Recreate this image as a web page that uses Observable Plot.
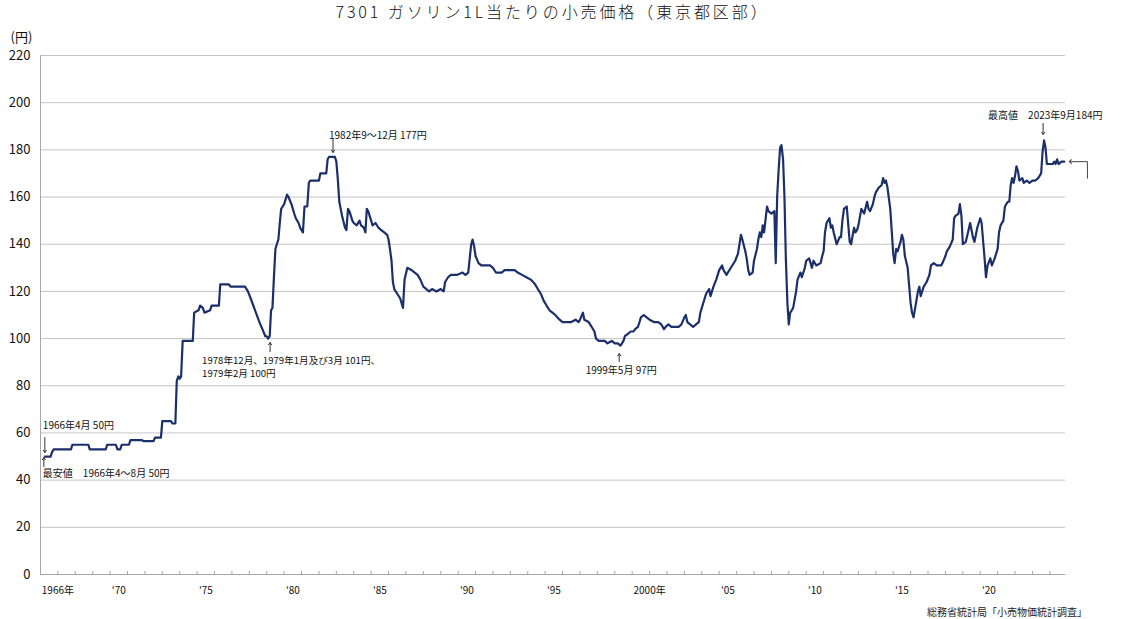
<!DOCTYPE html>
<html><head><meta charset="utf-8">
<script src="https://cdn.jsdelivr.net/npm/d3@7"></script>
<script src="https://cdn.jsdelivr.net/npm/@observablehq/plot@0.6"></script>
<style>
body{margin:0;background:#fff;font-family:"Noto Sans CJK JP",sans-serif;}
#title{height:26px;width:1025px;margin-left:40px;text-align:center;font-size:16px;line-height:23px;letter-spacing:2.9px;color:#111;font-weight:300;white-space:nowrap;}
#caption{height:15px;line-height:15px;font-size:10px;text-align:right;padding-right:50px;color:#222;}
svg{display:block;}
</style></head><body>
<div id="title">7301 ガソリン1L当たりの小売価格（東京都区部）</div>
<div id="chart"></div>
<div id="caption">総務省統計局「小売物価統計調査」</div>
<script>
const years = [1966.25,1966.58,1966.67,1966.75,1967.75,1967.83,1968.75,1968.83,1969.75,1969.83,1970.33,1970.42,1970.58,1970.67,1971.08,1971.17,1971.83,1971.92,1972.5,1972.58,1972.92,1973.0,1973.5,1973.58,1973.75,1973.83,1973.92,1974.0,1974.08,1974.17,1974.75,1974.83,1975.08,1975.17,1975.33,1975.42,1975.75,1975.83,1976.25,1976.33,1976.83,1976.92,1977.75,1977.92,1978.08,1978.33,1978.58,1978.75,1978.92,1979.0,1979.08,1979.17,1979.25,1979.33,1979.42,1979.5,1979.58,1979.67,1979.75,1979.83,1979.92,1980.0,1980.17,1980.25,1980.42,1980.58,1980.67,1980.83,1980.92,1981.0,1981.08,1981.17,1981.33,1981.42,1981.5,1982.0,1982.08,1982.42,1982.5,1982.58,1982.92,1983.0,1983.08,1983.17,1983.25,1983.33,1983.5,1983.58,1983.67,1983.75,1983.92,1984.0,1984.17,1984.33,1984.42,1984.58,1984.67,1984.75,1984.83,1985.0,1985.08,1985.25,1985.42,1985.58,1985.75,1985.92,1986.0,1986.08,1986.17,1986.25,1986.33,1986.5,1986.67,1986.83,1986.92,1987.08,1987.33,1987.5,1987.67,1987.83,1988.0,1988.17,1988.33,1988.5,1988.75,1989.0,1989.17,1989.25,1989.42,1989.58,1989.92,1990.25,1990.42,1990.58,1990.75,1990.83,1990.92,1991.0,1991.17,1991.33,1991.83,1992.0,1992.17,1992.5,1992.67,1993.25,1993.42,1993.67,1993.92,1994.17,1994.42,1994.58,1994.75,1994.92,1995.08,1995.25,1995.42,1995.58,1995.83,1996.0,1996.5,1996.75,1996.92,1997.0,1997.17,1997.25,1997.5,1997.67,1997.83,1997.92,1998.08,1998.42,1998.58,1998.83,1999.0,1999.17,1999.33,1999.5,1999.58,1999.75,1999.92,2000.08,2000.17,2000.33,2000.42,2000.5,2000.67,2000.83,2001.0,2001.25,2001.5,2001.67,2001.83,2001.92,2002.08,2002.25,2002.67,2002.83,2003.0,2003.08,2003.17,2003.33,2003.5,2003.67,2003.83,2003.92,2004.08,2004.25,2004.42,2004.5,2004.67,2004.83,2005.0,2005.17,2005.25,2005.42,2005.5,2005.75,2005.92,2006.08,2006.25,2006.33,2006.5,2006.58,2006.67,2006.75,2006.92,2007.0,2007.17,2007.25,2007.33,2007.42,2007.5,2007.58,2007.75,2007.83,2008.0,2008.17,2008.25,2008.33,2008.42,2008.5,2008.58,2008.67,2008.75,2008.83,2008.92,2009.0,2009.08,2009.17,2009.25,2009.42,2009.5,2009.67,2009.75,2009.92,2010.0,2010.17,2010.33,2010.42,2010.58,2010.83,2010.92,2011.0,2011.08,2011.17,2011.33,2011.42,2011.5,2011.58,2011.75,2011.92,2012.0,2012.08,2012.17,2012.33,2012.42,2012.5,2012.58,2012.75,2012.83,2012.92,2013.0,2013.17,2013.25,2013.33,2013.5,2013.58,2013.67,2013.83,2013.92,2014.0,2014.17,2014.33,2014.42,2014.5,2014.58,2014.67,2014.83,2014.92,2015.0,2015.08,2015.17,2015.25,2015.42,2015.5,2015.58,2015.67,2015.83,2015.92,2016.0,2016.08,2016.17,2016.33,2016.42,2016.5,2016.58,2016.75,2016.92,2017.08,2017.17,2017.33,2017.5,2017.75,2017.83,2018.0,2018.08,2018.25,2018.42,2018.5,2018.58,2018.75,2018.83,2018.92,2019.0,2019.17,2019.33,2019.42,2019.58,2019.67,2019.83,2020.0,2020.08,2020.17,2020.25,2020.33,2020.42,2020.58,2020.67,2020.83,2021.0,2021.08,2021.17,2021.33,2021.42,2021.58,2021.67,2021.75,2021.83,2021.92,2022.0,2022.08,2022.17,2022.25,2022.42,2022.5,2022.67,2022.83,2023.0,2023.17,2023.33,2023.5,2023.58,2023.67,2023.75,2023.83,2024.0,2024.17,2024.25,2024.33,2024.42,2024.5,2024.67,2024.83];
const prices = [50,50,52,53,53,55,55,53,53,55,55,53,53,55,55,57,57,56.5,56.5,58,58,65,65,64,64,82,84,83,84,99,99,111,112,114,113,111,112,114,114,123,123,122,122,120,117,112,107,104,101,101,100,101,112,113,127,138,140,142,149,155,156,157,161,160,157,153,151,149,147,146,145,156,156,166,167,167,170,170,176,177,177,175,168,158,155,152,147,146,155,154,150,149,148,150,148,147,145,155,154,150,148,149,147,146,145,144,142,138,133,124,121,119,117,113,125,130,129,128,127,125,122,121,120,121,120,121,120,124,126,127,127,128,127,128,140,142,139,135,132,131,131,130,128,128,129,129,128,127,126,125,123,121,119,116,114,112,111,110,108,107,107,108,107,108,111,108,107,105,103,100,99,99,98,99,98,98,97,99,101,102,103,103,104,105,107,109,110,109,108,107,107,106,104,105,106,105,105,106,109,110,107,106,105,106,107,111,115,119,121,118,122,125,129,131,129,127,128,131,133,136,144,142,137,134,129,127,128,133,138,142,145,143,148,145,156,154,153,154,132,160,172,181,182,176,160,134,115,106,111,112,113,120,125,128,126,130,133,134,130,133,131,132,135,137,145,149,151,147,148,145,140,143,143,150,155,156,148,141,140,147,145,146,148,155,154,153,158,155,154,157,160,162,164,165,168,166,167,164,155,145,136,132,138,137,141,144,142,135,130,122,115,111,109,116,120,122,118,122,124,127,131,132,131,131,132,135,137,139,142,151,152,153,157,152,140,141,146,149,143,141,147,151,149,141,134,126,131,134,131,134,138,145,148,150,156,158,158,165,168,166,169,173,171,167,168,166,167,166,167,167,168,170,179,184,181,174,174,174,175,174,176,174,175,175];
const yTicks = [0,20,40,60,80,100,120,140,160,180,200,220];
const xLabels = [
  {year:1966,label:"1966年"},{year:1970,label:"'70"},{year:1975,label:"'75"},{year:1980,label:"'80"},
  {year:1985,label:"'85"},{year:1990,label:"'90"},{year:1995,label:"'95"},{year:2000,label:"2000年"},
  {year:2005,label:"'05"},{year:2010,label:"'10"},{year:2015,label:"'15"},{year:2020,label:"'20"}
];
const yearTicks = d3.range(1967, 2025);
const annotations = [
  {key:"min1", t:1966.25, v:50, label:"1966年4月 50円"},
  {key:"min2", t:1966.25, v:50, label:"最安値　1966年4〜8月 50円"},
  {key:"low", t:1979.08, v:100, label:"1978年12月、1979年1月及び3月 101円、\n1979年2月 100円"},
  {key:"p82", t:1982.75, v:177, label:"1982年9〜12月 177円"},
  {key:"low99", t:1999.37, v:97, label:"1999年5月 97円"},
  {key:"max", t:2023.67, v:184, label:"最高値　2023年9月184円"}
];
const data = years.map((t,i)=>({t, v: prices[i]}));

const W = 1137, H = 578, mT = 29, mB = 30;
const pxY = p => p * 220 / (H - mT - mB);
const ann = k => annotations.filter(a => a.key === k);
const font = "'Noto Sans CJK JP', sans-serif";
const txt = (k, o) => Plot.text(ann(k), {x:"t", y:"v", text:"label", fontSize:10, fill:"#111", ...o});
// arrow from offset a px to offset b px below the annotated point (negative = above); head at b
const arr = (k, a, b, dx) => Plot.arrow(ann(k), {
  x1:"t", x2:"t", y1: d => d.v - pxY(a), y2: d => d.v - pxY(b),
  dx, stroke:"#333", strokeWidth:1, headLength:4, headAngle:70
});
const last = data[data.length-1];
const bracket = [
  {t:last.t+1.33, v:last.v-7},
  {t:last.t+1.33, v:last.v},
  {t:last.t+0.35, v:last.v}
];

const chart = Plot.plot({
  width: W, height: H,
  marginLeft: 40, marginRight: 72, marginTop: mT, marginBottom: mB,
  style: {fontFamily: font, background: "#fff", overflow: "visible", color:"#111"},
  x: {domain: [1966, 2024.9], axis: null},
  y: {domain: [0, 220], axis: null},
  marks: [
    Plot.gridY(yTicks.filter(d => d > 0), {stroke: "#c4c4c4", strokeOpacity: 1}),
    Plot.axisY(yTicks, {tickSize: 0, tickPadding: 10, fontSize: 13, label: null}),
    Plot.ruleY([0], {stroke: "#a6a6a6"}),
    Plot.ruleX([1966], {stroke: "#a6a6a6"}),
    Plot.tickX(yearTicks, {x: d => d, stroke: "#a6a6a6", insetTop: H - mT - mB - 3}),
    Plot.text(xLabels, {x: d => d.label.endsWith("年") ? d.year + 1 : d.year + 0.5, y: () => 0, text: "label", dy: 16, fontSize: 10, fill:"#111"}),
    Plot.line(data, {x: "t", y: "v", stroke: "#1b2f6b", strokeWidth: 2.2}),
    Plot.line(bracket, {x: "t", y: "v", stroke: "#444", strokeWidth: 1, markerEnd: "arrow"}),
    txt("min1", {dx: -2, dy: -31, textAnchor: "start"}),
    arr("min1", -19, -4, 0),
    arr("min2", 10, 1, -1),
    txt("min2", {dx: -2, dy: 17, textAnchor: "start"}),
    txt("low", {dx: -66, dy: 28, textAnchor: "start", fontSize: 9.6, lineHeight: 1.3}),
    arr("low", 13, 4, 2),
    txt("p82", {dx: -3, dy: -21.5, textAnchor: "start"}),
    arr("p82", -18.5, -4.5, 1),
    txt("low99", {dx: 0, dy: 25.5}),
    arr("low99", 16, 8, -2),
    txt("max", {dx: -56, dy: -25, textAnchor: "start"}),
    arr("max", -17, -6, -1),
    Plot.text(["(円)"], {frameAnchor: "top-left", text: d => d, dx: -30, dy: -18, lineAnchor: "middle", textAnchor: "start", fontSize: 13, fill:"#111"})
  ]
});
document.getElementById("chart").append(chart);
</script>
</body></html>
